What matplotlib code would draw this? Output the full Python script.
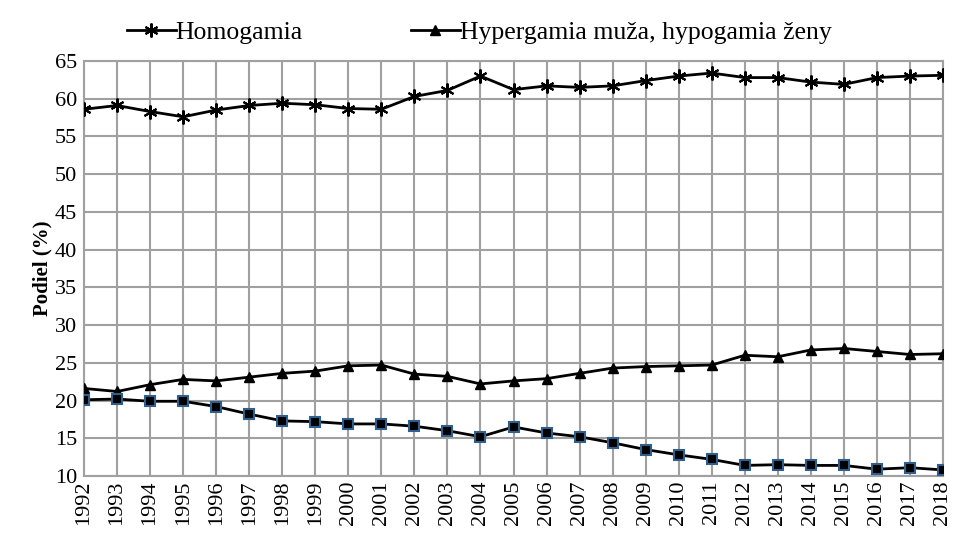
import matplotlib.pyplot as plt
import numpy as np

plt.rcParams['font.family'] = ['Liberation Serif', 'DejaVu Serif']

years = list(range(1992, 2019))
homogamia = [58.6, 59.1, 58.3, 57.6, 58.5, 59.1, 59.4, 59.2, 58.7, 58.6,
             60.3, 61.1, 63.0, 61.2, 61.7, 61.5, 61.7, 62.4, 63.0, 63.4,
             62.8, 62.8, 62.2, 61.9, 62.8, 63.0, 63.1]
hypergamia = [21.6, 21.2, 22.1, 22.8, 22.6, 23.1, 23.6, 23.9, 24.6, 24.7,
              23.5, 23.2, 22.2, 22.6, 22.9, 23.6, 24.3, 24.5, 24.6, 24.7,
              26.0, 25.8, 26.7, 26.9, 26.5, 26.1, 26.2]
hypogamia = [20.1, 20.2, 19.9, 19.9, 19.2, 18.2, 17.3, 17.2, 16.9, 16.9,
             16.6, 16.0, 15.2, 16.5, 15.7, 15.2, 14.4, 13.5, 12.8, 12.2,
             11.4, 11.5, 11.4, 11.4, 10.9, 11.1, 10.8]

fig = plt.figure(figsize=(9.56, 5.42), dpi=100)
ax = fig.add_axes([0.0879, 0.1218, 0.8985, 0.7657])

ax.plot(years, homogamia, color='black', linewidth=2, marker=(6, 2, 0),
        markersize=10, markeredgewidth=1.5, label='Homogamia', zorder=3)
ax.plot(years, hypergamia, color='black', linewidth=2, marker='^',
        markersize=7, label='Hypergamia muža, hypogamia ženy', zorder=3)
ax.plot(years, hypogamia, color='black', linewidth=2, marker='s',
        markersize=7, markerfacecolor='black', markeredgecolor='#2F5F8F',
        markeredgewidth=1.5, zorder=3)

ax.set_xlim(1992, 2018)
ax.set_ylim(10, 65)
ax.set_xticks(years)
ax.set_xticklabels([str(y) for y in years], rotation=90, fontsize=16)
ax.set_yticks(np.arange(10, 66, 5))
ax.tick_params(axis='y', labelsize=16, length=0, pad=5)
ax.tick_params(axis='x', length=0, pad=3)

ax.grid(True, color='#a0a0a0', linewidth=1.5, zorder=1)
for s in ax.spines.values():
    s.set_color('#a0a0a0')
    s.set_linewidth(1.5)

ax.set_ylabel('Podiel (%)', fontsize=15, fontweight='bold', labelpad=2)

ax.legend(loc='lower center', bbox_to_anchor=(0.46, 1.0), ncol=2,
          frameon=False, fontsize=18.5, handlelength=1.9, handletextpad=0.0,
          columnspacing=4.2, borderaxespad=0.25)

fig.savefig('out.png', dpi=100)
